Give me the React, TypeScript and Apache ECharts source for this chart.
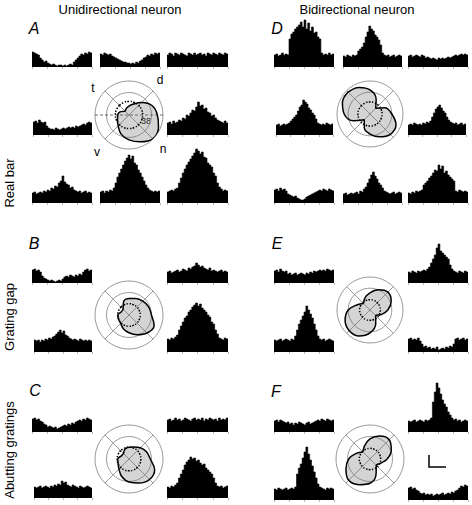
import React, { useEffect, useRef } from "react";
import * as echarts from "echarts";

// ---------- polar data (direction in degrees, response in spikes/s) ----------
const DIRS = [135, 157.5, 180, 202.5, 225, 247.5, 270, 292.5, 315, 337.5, 0, 22.5, 45, 67.5, 90, 112.5];
const R_MAX = 57.5;
const R_MID = 38;

const polarA = [9, 15, 19, 21, 26, 35, 42, 49, 57, 54, 48, 42, 30, 20, 15, 12];
const polarD = [54, 52, 45, 31, 14, 26, 35, 43, 50, 49, 38, 28, 14, 28, 42, 50];
const polarB = [14, 14, 19, 19, 20, 25, 30, 36, 43, 46, 38, 36, 33, 30, 28, 24];
const polarE = [16, 24, 38, 47, 51, 49, 40, 26, 14, 21, 31, 40, 44, 38, 30, 23];
const polarC = [13, 14, 19, 20, 24, 32, 39, 44, 49, 47, 36, 32, 27, 22, 20, 18];
const polarF = [17, 25, 36, 44, 51, 47, 41, 27, 15, 19, 29, 39, 46, 42, 34, 24];

const spontA = 23, spontD = 21, spontB = 19, spontE = 18, spontC = 20, spontF = 18;

// ---------- PSTH data (bin heights, 32 bins each) ----------
const NBINS = 32;

const A_tl = [15,14,13,12,9,7,5,6,4,3,2,3,2,1,2,2,1,2,1,2,3,2,5,7,9,11,13,12,14,13,15,14];
const A_tm = [13,12,14,13,12,13,11,10,9,8,7,6,5,5,4,4,3,4,3,5,4,6,7,9,10,12,11,13,12,14,13,14];
const A_tr = [12,14,13,11,14,13,12,14,13,12,11,14,13,12,14,12,13,14,12,13,11,14,13,12,14,13,12,14,13,12,14,13];
const A_ml = [13,14,12,15,13,12,13,9,7,6,6,5,7,6,5,6,7,6,7,8,7,8,7,9,8,9,10,11,10,12,13,12];
const A_mr = [12,13,11,14,12,13,15,14,17,16,20,19,22,25,24,28,33,29,30,26,27,23,22,19,20,17,15,14,13,12,14,12];
const A_bl = [10,11,9,10,11,10,12,11,13,12,15,14,17,16,20,22,27,21,19,18,15,16,13,12,11,12,10,11,12,10,11,10];
const A_bm = [11,12,10,12,11,13,12,15,20,26,30,34,38,42,45,48,44,47,40,38,33,30,26,22,18,15,13,12,11,12,11,12];
const A_br = [11,12,13,12,14,15,20,25,30,34,38,41,44,47,50,54,52,49,51,46,45,40,38,36,30,27,20,16,14,12,13,12];

const D_tl = [12,13,11,12,14,12,13,12,28,33,35,38,40,42,45,40,47,38,44,36,40,34,35,30,28,14,12,13,12,14,12,13];
const D_tm = [11,10,12,11,10,12,11,12,16,18,20,24,30,35,41,38,36,32,30,27,22,14,12,11,12,10,11,12,10,11,12,11];
const D_tr = [11,12,10,11,12,11,10,12,11,9,10,9,8,9,8,7,9,8,9,8,9,10,9,10,11,12,11,12,13,12,13,12];
const D_ml = [10,11,9,10,11,10,11,12,14,16,18,20,24,28,30,35,33,31,27,25,22,20,16,12,11,10,11,10,12,11,10,11];
const D_mr = [10,11,10,12,11,10,11,10,12,11,13,12,14,18,22,26,28,30,27,24,22,18,15,13,12,11,12,10,11,12,10,11];
const D_bl = [13,14,12,15,13,14,12,9,8,7,6,7,5,4,3,3,4,6,7,8,9,10,11,12,13,12,14,13,12,14,13,12];
const D_bm = [9,10,8,9,10,9,10,11,9,12,11,14,16,20,24,28,31,27,24,20,18,15,12,11,10,9,10,11,9,10,11,10];
const D_br = [10,9,11,10,12,11,12,13,18,20,22,25,27,30,33,32,38,34,37,30,32,28,26,24,22,12,11,13,12,11,12,11];

const B_tl = [13,14,12,13,11,7,5,4,3,2,3,2,1,2,3,2,4,6,7,6,8,7,6,8,7,9,8,11,13,14,12,13];
const B_tr = [11,12,10,11,12,13,11,12,14,13,12,15,14,16,17,20,18,16,17,15,14,13,15,12,13,12,11,12,13,11,12,11];
const B_bl = [12,11,12,10,12,11,13,12,14,13,15,16,18,20,22,19,21,17,16,14,13,12,13,12,11,13,12,11,12,11,12,11];
const B_br = [13,12,14,13,15,17,22,26,30,34,36,40,42,45,47,49,46,48,44,42,40,37,35,30,28,22,18,14,13,12,14,13];

const C_tl = [13,14,12,13,11,10,8,7,5,6,5,4,5,3,4,5,6,7,6,8,7,9,8,10,11,12,11,13,12,14,13,12];
const C_tr = [12,13,11,12,14,12,13,11,12,14,13,12,11,13,14,12,13,12,14,11,13,12,14,13,12,13,11,14,12,13,12,14];
const C_bl = [11,10,11,12,10,11,12,11,10,12,11,13,12,14,13,17,15,16,13,12,11,13,12,11,10,12,11,10,11,12,11,10];
const C_br = [11,10,12,11,13,15,20,24,28,33,36,38,41,39,40,37,38,35,33,34,30,28,26,24,20,15,12,11,12,10,11,12];

const E_tl = [12,13,11,14,12,11,12,9,10,8,9,10,8,9,10,9,8,10,9,11,10,12,11,12,13,12,13,12,14,13,12,13];
const E_tr = [11,10,12,11,10,12,11,12,13,12,14,16,20,24,28,35,39,32,30,28,26,24,18,14,12,11,10,12,11,10,12,11];
const E_bl = [12,11,12,13,11,12,13,12,11,13,12,16,22,28,32,36,40,46,42,38,34,28,22,16,13,12,13,11,12,13,12,11];
const E_br = [13,14,12,13,12,14,11,8,5,6,4,5,3,4,3,5,2,3,4,3,5,4,6,5,8,13,14,12,13,14,12,13];

const F_tl = [11,12,10,12,11,10,9,10,8,9,7,9,8,10,9,8,7,9,10,8,9,10,11,12,11,13,12,11,13,12,11,12];
const F_tr = [11,10,11,12,10,11,12,11,10,12,11,12,14,30,40,49,44,38,32,28,25,20,17,14,12,13,11,12,10,11,12,11];
const F_bl = [11,10,12,11,10,11,12,10,11,12,11,13,26,32,36,42,48,53,46,40,34,28,22,16,13,12,11,10,12,11,12,11];
const F_br = [12,13,11,12,10,9,7,6,7,5,6,5,6,4,5,6,5,6,7,5,6,7,6,8,7,9,10,12,14,13,15,14];

// ---------- layout ----------
const H = 56;
const HISTS = [
  { d: A_tl, x: 32, b: 67, w: 60 }, { d: A_tm, x: 100, b: 67, w: 60 }, { d: A_tr, x: 167, b: 67, w: 61 },
  { d: A_ml, x: 33, b: 135, w: 59 }, { d: A_mr, x: 167, b: 135, w: 61 },
  { d: A_bl, x: 32, b: 203, w: 60 }, { d: A_bm, x: 100, b: 203, w: 60 }, { d: A_br, x: 167, b: 203, w: 61 },
  { d: D_tl, x: 274, b: 67, w: 60 }, { d: D_tm, x: 343, b: 67, w: 59 }, { d: D_tr, x: 408, b: 67, w: 60 },
  { d: D_ml, x: 276, b: 135, w: 57 }, { d: D_mr, x: 408, b: 135, w: 58 },
  { d: D_bl, x: 274, b: 203, w: 60 }, { d: D_bm, x: 343, b: 203, w: 59 }, { d: D_br, x: 408, b: 203, w: 60 },
  { d: B_tl, x: 32, b: 283, w: 60 }, { d: B_tr, x: 167, b: 283, w: 61 },
  { d: B_bl, x: 34, b: 352, w: 58 }, { d: B_br, x: 167, b: 352, w: 61 },
  { d: C_tl, x: 32, b: 432, w: 60 }, { d: C_tr, x: 167, b: 432, w: 61 },
  { d: C_bl, x: 34, b: 498, w: 58 }, { d: C_br, x: 167, b: 498, w: 61 },
  { d: E_tl, x: 274, b: 283, w: 60 }, { d: E_tr, x: 408, b: 283, w: 60 },
  { d: E_bl, x: 274, b: 352, w: 60 }, { d: E_br, x: 408, b: 352, w: 60 },
  { d: F_tl, x: 274, b: 432, w: 60 }, { d: F_tr, x: 408, b: 432, w: 60 },
  { d: F_bl, x: 274, b: 500, w: 60 }, { d: F_br, x: 408, b: 500, w: 60 },
];

const POLARS = [
  { vals: polarA, spont: spontA, c: [129, 115], r: 34, dashed: true },
  { vals: polarD, spont: spontD, c: [370, 114], r: 33, dashed: false },
  { vals: polarB, spont: spontB, c: [129, 315], r: 34, dashed: false },
  { vals: polarC, spont: spontC, c: [129, 459], r: 34, dashed: false },
  { vals: polarE, spont: spontE, c: [370, 310], r: 33, dashed: false },
  { vals: polarF, spont: spontF, c: [370, 459], r: 34, dashed: false },
];

const FONT = '"Liberation Sans", Arial, Helvetica, sans-serif';
const GRAY = "#9a9a9a";

const toAxisAngle = (deg: number) => (((deg - 45) % 360) + 360) % 360;

function buildOption() {
  const grid: any[] = [];
  const xAxis: any[] = [];
  const yAxis: any[] = [];
  const series: any[] = [];

  HISTS.forEach((h, i) => {
    grid.push({ left: h.x, top: h.b - H, width: h.w, height: H });
    xAxis.push({
      type: "value", gridIndex: i, min: 0, max: NBINS, interval: 8,
      axisLine: { show: false },
      axisTick: { show: true, length: 2, lineStyle: { color: "#b5b5b5", width: 1 } },
      axisLabel: { show: false }, splitLine: { show: false },
    });
    yAxis.push({ type: "value", gridIndex: i, min: 0, max: H, show: false, splitLine: { show: false } });
    const pts = h.d.map((v, k) => [k, v]);
    pts.push([NBINS, h.d[h.d.length - 1]]);
    series.push({
      type: "line", xAxisIndex: i, yAxisIndex: i, data: pts, step: "end",
      symbol: "none", silent: true,
      lineStyle: { color: "#000", width: 0.6 },
      areaStyle: { color: "#000", opacity: 1 },
    });
  });

  const polar: any[] = [];
  const angleAxis: any[] = [];
  const radiusAxis: any[] = [];
  POLARS.forEach((p, i) => {
    polar.push({ center: p.c, radius: p.r });
    angleAxis.push({
      polarIndex: i, type: "value", min: 0, max: 360, interval: 90, startAngle: 45, clockwise: false,
      axisLine: { show: false }, axisTick: { show: false }, axisLabel: { show: false },
      splitLine: { show: true, lineStyle: { color: GRAY, width: 1 } },
    });
    radiusAxis.push({
      polarIndex: i, type: "value", min: 0, max: R_MAX, interval: R_MID,
      axisLine: { show: false }, axisTick: { show: false }, axisLabel: { show: false },
      splitLine: { show: true, lineStyle: { color: GRAY, width: 1 } },
    });
    if (p.dashed) {
      series.push({
        type: "line", coordinateSystem: "polar", polarIndex: i, symbol: "none", silent: true, z: 1,
        data: [[R_MAX, toAxisAngle(180)], [0, 0], [R_MAX, toAxisAngle(0)]],
        lineStyle: { color: "#444", width: 0.8, type: [3, 2] },
      });
    }
    const pts = DIRS.map((d, k) => [p.vals[k], toAxisAngle(d)]);
    pts.push(pts[0]);
    series.push({
      type: "line", coordinateSystem: "polar", polarIndex: i, symbol: "none", silent: true, smooth: 0.4, z: 3,
      data: pts,
      lineStyle: { color: "#000", width: 1.5 },
      areaStyle: { color: "rgba(110,110,110,0.42)" },
    });
    const sp = DIRS.map((d) => [p.spont, toAxisAngle(d)]);
    sp.push(sp[0]);
    series.push({
      type: "line", coordinateSystem: "polar", polarIndex: i, symbol: "none", silent: true, smooth: true, z: 4,
      data: sp,
      lineStyle: { color: "#000", width: 1.5, type: [1.5, 1.5] },
    });
  });

  const txt = (text: string, x: number, y: number, size: number, extra: any = {}) => ({
    type: "text", x, y, silent: true, rotation: extra.rotation || 0,
    style: {
      text, fontSize: size, fontFamily: FONT, fill: "#000", align: "center", verticalAlign: "middle",
      fontStyle: extra.italic ? "italic" : "normal",
    },
  });

  const graphic: any[] = [
    txt("Unidirectional neuron", 120, 9, 13),
    txt("Bidirectional neuron", 357, 9, 13),
    txt("A", 34, 28, 16, { italic: true }),
    txt("D", 277, 28, 16, { italic: true }),
    txt("B", 34, 243, 16, { italic: true }),
    txt("E", 277, 243, 16, { italic: true }),
    txt("C", 35, 390, 16, { italic: true }),
    txt("F", 276, 391, 16, { italic: true }),
    txt("Real bar", 9, 183, 13, { rotation: Math.PI / 2 }),
    txt("Grating gap", 9, 317, 13, { rotation: Math.PI / 2 }),
    txt("Abutting gratings", 9, 450, 13, { rotation: Math.PI / 2 }),
    txt("t", 93, 88, 12),
    txt("d", 160, 80, 12),
    txt("v", 97, 152, 12),
    txt("n", 163, 149, 12),
    txt("38", 146, 121, 9),
    {
      type: "polyline", silent: true,
      shape: { points: [[429, 455], [429, 467], [446, 467]] },
      style: { stroke: "#000", lineWidth: 1.5, fill: "none" },
    },
  ];

  return { animation: false, backgroundColor: "#fff", grid, xAxis, yAxis, polar, angleAxis, radiusAxis, series, graphic };
}

export default function App() {
  const ref = useRef<HTMLDivElement>(null);
  useEffect(() => {
    if (!ref.current) return;
    const chart = echarts.init(ref.current, undefined, { renderer: "svg" });
    chart.setOption(buildOption());
    return () => chart.dispose();
  }, []);
  return (
    <div
      ref={ref}
      style={{ position: "absolute", left: 0, top: 0, width: 472, height: 505, background: "#fff" }}
    />
  );
}
